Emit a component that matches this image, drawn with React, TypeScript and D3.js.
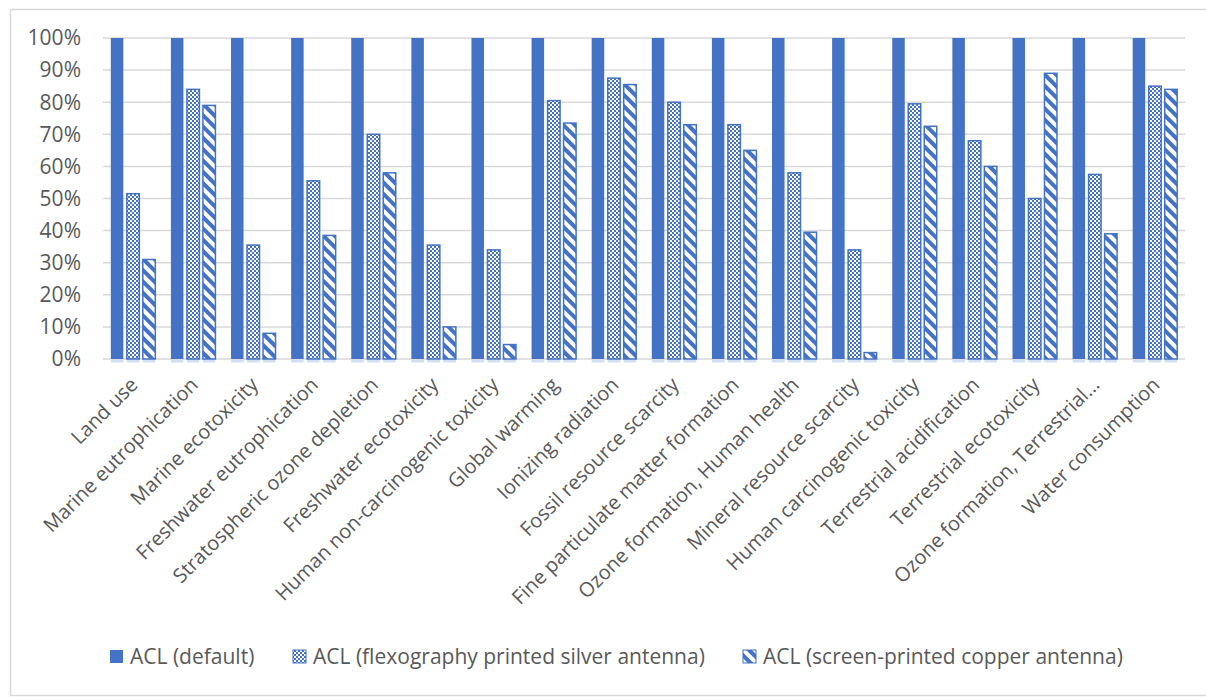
import React from "react";
import * as d3 from "d3";

const categories = [
  "Land use",
  "Marine eutrophication",
  "Marine ecotoxicity",
  "Freshwater eutrophication",
  "Stratospheric ozone depletion",
  "Freshwater ecotoxicity",
  "Human non-carcinogenic toxicity",
  "Global warming",
  "Ionizing radiation",
  "Fossil resource scarcity",
  "Fine particulate matter formation",
  "Ozone formation, Human health",
  "Mineral resource scarcity",
  "Human carcinogenic toxicity",
  "Terrestrial acidification",
  "Terrestrial ecotoxicity",
  "Ozone formation, Terrestrial...",
  "Water consumption",
];

const seriesNames = [
  "ACL (default)",
  "ACL (flexography printed silver antenna)",
  "ACL (screen-printed copper antenna)",
];

const defaultValues = [100, 100, 100, 100, 100, 100, 100, 100, 100, 100, 100, 100, 100, 100, 100, 100, 100, 100];
const silverValues = [51.5, 84, 35.5, 55.5, 70, 35.5, 34, 80.5, 87.5, 80, 73, 58, 34, 79.5, 68, 50, 57.5, 85];
const copperValues = [31, 79, 8, 38.5, 58, 10, 4.5, 73.5, 85.5, 73, 65, 39.5, 2, 72.5, 60, 89, 39, 84];

const yTicks = [0, 10, 20, 30, 40, 50, 60, 70, 80, 90, 100];

const BLUE = "#4472C4";
const TEXT = "#595959";
const FONT = "'Open Sans', 'Noto Sans', sans-serif";

export default function App() {
  const W = 1206;
  const H = 697;
  const left = 103;
  const right = 1185;
  const top = 38;
  const bottom = 359;

  const x = d3.scaleBand<string>().domain(categories).range([left, right]).paddingInner(0).paddingOuter(0);
  const y = d3.scaleLinear().domain([0, 100]).range([bottom, top]);

  const series = [defaultValues, silverValues, copperValues];
  const fills = [BLUE, "url(#checker)", "url(#diag)"];
  const barW = 12.5;
  const barStep = 16;

  return (
    <svg width={W} height={H} style={{ position: "absolute", left: 0, top: 0, fontFamily: FONT }}>
      <defs>
        <pattern id="checker" patternUnits="userSpaceOnUse" width="4" height="4">
          <rect width="4" height="4" fill="#ffffff" />
          <rect x="0" y="0" width="2" height="2" fill={BLUE} />
          <rect x="2" y="2" width="2" height="2" fill={BLUE} />
        </pattern>
        <pattern id="diag" patternUnits="userSpaceOnUse" width="8" height="8" patternTransform="rotate(45)">
          <rect width="8" height="8" fill="#ffffff" />
          <rect x="0" y="0" width="8" height="4" fill={BLUE} />
        </pattern>
      </defs>
      <rect x={0} y={0} width={W} height={H} fill="#fff" />
      <rect x={10.5} y={9.5} width={1230} height={686} fill="#fff" stroke="#d9d9d9" strokeWidth={1.5} />

      {yTicks.map((t) => (
        <g key={t}>
          <line x1={left} x2={right} y1={y(t)} y2={y(t)} stroke="#d9d9d9" strokeWidth={1.5} />
          <text x={81} y={y(t)} dy="0.35em" textAnchor="end" fontSize={21} fill={TEXT}>
            {t}%
          </text>
        </g>
      ))}

      {categories.map((c, ci) => {
        const cx = (x(c) as number) + x.bandwidth() / 2;
        return (
          <g key={c}>
            {series.map((vals, si) => {
              const bx = cx + (si - 1) * barStep - barW / 2;
              const by = y(vals[ci]);
              const bh = bottom - by;
              return (
                <g key={si}>
                  <rect x={bx} y={bottom + 0.5} width={barW} height={3} fill="#c9d6ee" opacity={0.8} />
                  <rect
                    x={bx}
                    y={by}
                    width={barW}
                    height={bh}
                    fill={fills[si]}
                    stroke={si === 0 ? "none" : BLUE}
                    strokeWidth={si === 0 ? 0 : 1.5}
                  />
                </g>
              );
            })}
            <text
              transform={`translate(${cx + 6},${bottom + 27}) rotate(-45)`}
              textAnchor="end"
              fontSize={20}
              fill={TEXT}
            >
              {c}
            </text>
          </g>
        );
      })}

      {seriesNames.map((n, i) => {
        const lx = [110, 293, 743][i];
        return (
          <g key={n}>
            <rect
              x={lx}
              y={650}
              width={13}
              height={13}
              fill={fills[i]}
              stroke={i === 0 ? "none" : BLUE}
              strokeWidth={1}
            />
            <text x={lx + 20} y={664} fontSize={21} fill={TEXT}>
              {n}
            </text>
          </g>
        );
      })}
    </svg>
  );
}
